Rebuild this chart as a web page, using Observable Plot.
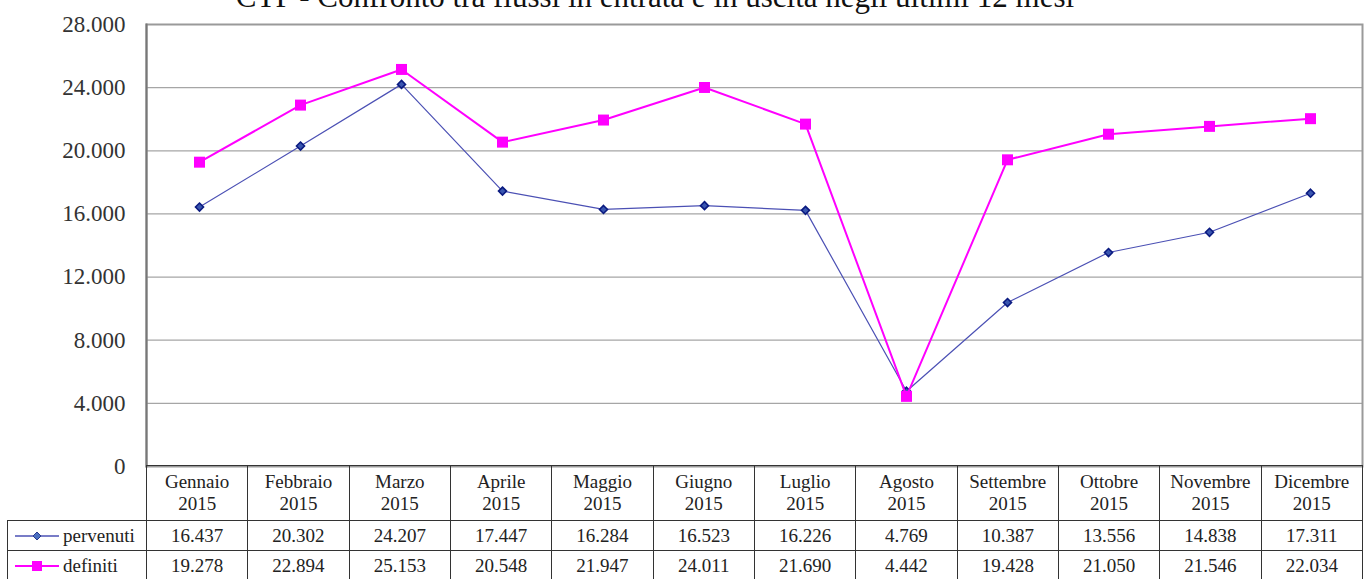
<!DOCTYPE html>
<html>
<head>
<meta charset="utf-8">
<script src="https://cdn.jsdelivr.net/npm/d3@7"></script>
<script src="https://cdn.jsdelivr.net/npm/@observablehq/plot@0.6"></script>
<style>
  html, body { margin: 0; padding: 0; background: #fff; overflow: hidden; }
  #wrap { position: relative; width: 1370px; height: 579px; overflow: hidden; font-family: "Liberation Serif", "DejaVu Serif", serif; }
  #title { position: absolute; left: 0; width: 1310px; top: -19px; text-align: center; font-size: 31px; line-height: 31px; color: #111; white-space: nowrap; }
  #chart { position: absolute; left: 0; top: 0; }
  #tbl { position: absolute; left: 7px; top: 465px; border-collapse: collapse; table-layout: fixed; width: 1355px; font-size: 19px; color: #222; }
  #tbl td { border: 1px solid #333; text-align: center; padding: 0; }
  #tbl tr.head td { height: 54px; line-height: 22px; }
  #tbl tr.row td { height: 29px; line-height: 29px; }
  #tbl td.blank { border-top: none; border-left: none; }
  #tbl td.leg { text-align: left; padding-left: 6px; white-space: nowrap; }
  #tbl td.leg svg { vertical-align: middle; margin-right: 3px; position: relative; top: -2px; }
</style>
</head>
<body>
<div id="wrap">
  <div id="title"></div>
  <div id="chart"></div>
  <table id="tbl"></table>
</div>
<script>
const titleText = "CTP - Confronto tra flussi in entrata e in uscita negli ultimi 12 mesi";
const months = ["Gennaio","Febbraio","Marzo","Aprile","Maggio","Giugno","Luglio","Agosto","Settembre","Ottobre","Novembre","Dicembre"];
const year = "2015";
const seriesNames = ["pervenuti", "definiti"];
const pervenuti = [16437, 20302, 24207, 17447, 16284, 16523, 16226, 4769, 10387, 13556, 14838, 17311];
const definiti  = [19278, 22894, 25153, 20548, 21947, 24011, 21690, 4442, 19428, 21050, 21546, 22034];
const yTicks = [0, 4000, 8000, 12000, 16000, 20000, 24000, 28000];

const itLocale = d3.formatLocale({decimal: ",", thousands: ".", grouping: [3], currency: ["", "€"]});
const fmt = itLocale.format(",d");

const colors = {pervenuti: "#4B50B4", definiti: "#FF00FF"};

const cats = months.map(m => m + " " + year);
const rowsP = cats.map((c, i) => ({cat: c, value: pervenuti[i]}));
const rowsD = cats.map((c, i) => ({cat: c, value: definiti[i]}));

document.getElementById("title").textContent = titleText;

const chart = Plot.plot({
  width: 1370,
  height: 490,
  marginLeft: 146,
  marginRight: 8,
  marginTop: 24,
  marginBottom: 24,
  style: {fontFamily: "'Liberation Serif', serif", background: "transparent", color: "#333", overflow: "visible"},
  x: {type: "point", domain: cats, padding: 0.5, axis: null},
  y: {domain: [0, 28000], axis: null},
  marks: [
    Plot.ruleY(yTicks, {stroke: "#a6a6a6", strokeWidth: 1.2}),
    Plot.frame({stroke: "#9a9a9a", strokeWidth: 2}),
    Plot.frame({anchor: "left", stroke: "#777", strokeWidth: 2}),
    Plot.axisY({ticks: yTicks, tickSize: 0, tickPadding: 21, fontSize: 23, tickFormat: fmt, fill: "#333", label: null}),
    Plot.line(rowsP, {x: "cat", y: "value", stroke: colors.pervenuti, strokeWidth: 1.2}),
    Plot.dot(rowsP, {x: "cat", y: "value", symbol: "diamond2", r: 3.6, fill: "#3A56B0", stroke: "#0A1A80", strokeWidth: 1.6}),
    Plot.line(rowsD, {x: "cat", y: "value", stroke: colors.definiti, strokeWidth: 2}),
    Plot.dot(rowsD, {x: "cat", y: "value", symbol: "square", r: 6.2, fill: colors.definiti, stroke: "none"})
  ]
});
document.getElementById("chart").appendChild(chart);

// table
const tbl = document.getElementById("tbl");
const cg = document.createElement("colgroup");
const c0 = document.createElement("col"); c0.style.width = "139px"; cg.appendChild(c0);
months.forEach(() => { const c = document.createElement("col"); c.style.width = (1216 / 12) + "px"; cg.appendChild(c); });
tbl.appendChild(cg);

const head = document.createElement("tr"); head.className = "head";
const b = document.createElement("td"); b.className = "blank"; head.appendChild(b);
months.forEach(m => { const td = document.createElement("td"); td.innerHTML = m + "<br>" + year; head.appendChild(td); });
tbl.appendChild(head);

function swatch(name) {
  const ns = "http://www.w3.org/2000/svg";
  const s = document.createElementNS(ns, "svg");
  s.setAttribute("width", 46); s.setAttribute("height", 14);
  const l = document.createElementNS(ns, "line");
  l.setAttribute("x1", 1); l.setAttribute("x2", 45); l.setAttribute("y1", 7); l.setAttribute("y2", 7);
  l.setAttribute("stroke", colors[name]); l.setAttribute("stroke-width", name === "definiti" ? 2 : 1.3);
  s.appendChild(l);
  if (name === "definiti") {
    const r = document.createElementNS(ns, "rect");
    r.setAttribute("x", 18); r.setAttribute("y", 2); r.setAttribute("width", 10); r.setAttribute("height", 10);
    r.setAttribute("fill", colors.definiti);
    s.appendChild(r);
  } else {
    const p = document.createElementNS(ns, "path");
    p.setAttribute("d", "M23,3 L27,7 L23,11 L19,7 Z");
    p.setAttribute("fill", "#4A6FC0"); p.setAttribute("stroke", "#2A3A90"); p.setAttribute("stroke-width", 1);
    s.appendChild(p);
  }
  return s;
}

[["pervenuti", pervenuti], ["definiti", definiti]].forEach(([name, vals]) => {
  const tr = document.createElement("tr"); tr.className = "row";
  const lg = document.createElement("td"); lg.className = "leg";
  lg.appendChild(swatch(name));
  lg.appendChild(document.createTextNode(name));
  tr.appendChild(lg);
  vals.forEach(v => { const td = document.createElement("td"); td.textContent = fmt(v); tr.appendChild(td); });
  tbl.appendChild(tr);
});
</script>
</body>
</html>
